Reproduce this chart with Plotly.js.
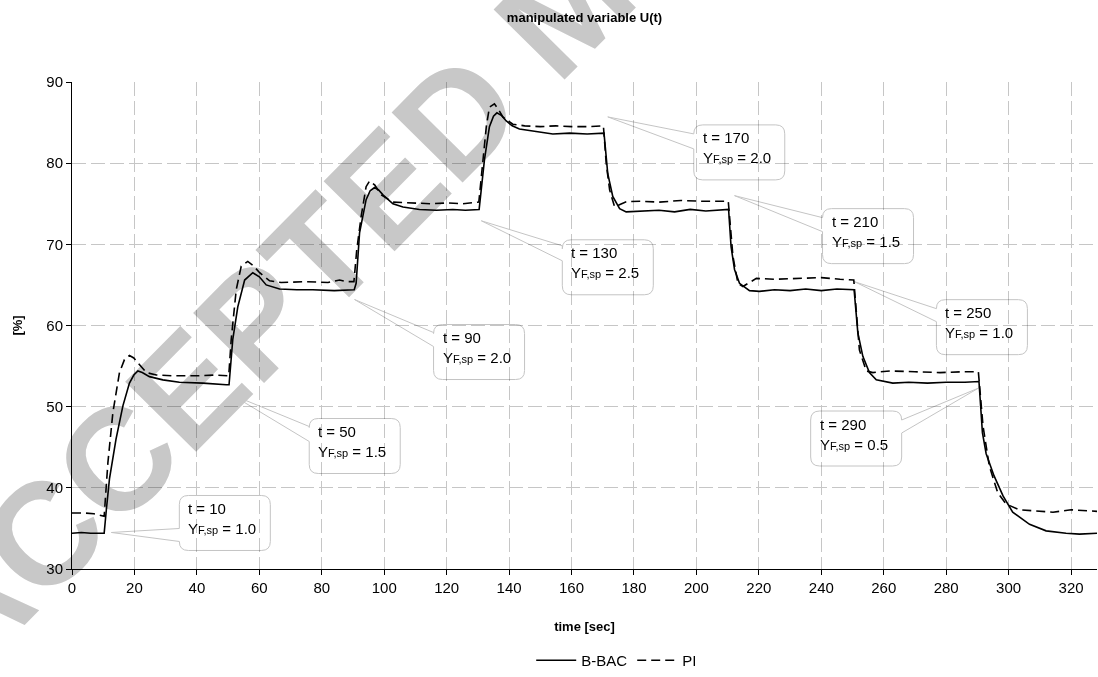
<!DOCTYPE html>
<html>
<head>
<meta charset="utf-8">
<script src="https://cdn.plot.ly/plotly-3.0.1.min.js"></script>
<style>
html,body{margin:0;padding:0;background:#fff}
#chart{width:1098px;height:677px}
</style>
</head>
<body>
<div id="chart"></div>
<script>
// ---------- data ----------
const bbacTime = [0,3,6,10.3, 11.0,12.0,14.1,16.3,18.4,19.8,21.1,22.5,24.8,29.1,34.4,41.9,49.4,50.3, 51.5,53.1,55.3,57.9,60.0,62.2,66.5,72.0,77.1,84.0,90.4, 91.0,92.1,94.2,95.5,96.9,98.2,99.6,102.8,106.0,111.3,116.7,122.0,126.0,130.4, 132.1,133.7,135.0,136.1,137.5,139.1,141.0,143.3,148.7,154.0,159.4,165.0,170.4, 171.6,173.2,175.4,177.5,182.8,188.0,193.0,198.0,203.0,210.3, 211.1,212.2,213.8,217.0,220.2,225.0,230.0,235.0,240.0,245.0,250.5, 251.7,253.3,255.4,257.6,262.9,268.0,274.0,280.0,286.0,290.5, 291.0,291.6,292.8,295.3,298.2,301.3,306.7,312.0,318.4,322.7,328.3];
const bbacU = [34.4,34.5,34.4,34.4, 37.3,41.1,46.0,50.1,52.9,53.9,54.4,54.2,53.7,53.3,53.0,52.9,52.7,52.7, 58.3,62.3,65.6,66.5,66.0,65.0,64.5,64.4,64.4,64.3,64.4, 65.2,71.4,75.5,76.6,77.0,76.7,76.1,75.0,74.6,74.3,74.2,74.3,74.2,74.3, 80.4,84.5,85.8,86.2,85.9,85.2,84.6,84.2,83.9,83.6,83.7,83.6,83.7, 78.7,75.9,74.4,74.0,74.1,74.2,74.0,74.3,74.1,74.3, 69.7,66.9,65.2,64.3,64.2,64.4,64.3,64.5,64.3,64.5,64.4, 59.1,56.2,54.2,53.3,52.9,53.0,52.9,53.0,53.0,53.1, 49.5,46.8,44.2,41.5,39.0,37.0,35.5,34.7,34.4,34.3,34.4];

const piTime = [0,4,7,9,10.3, 11.5,13.1,15.2,16.8,18.4,19.8,21.1,23.8,27.0,32.0,40.0,46.0,50.2, 51.0,52.6,54.2,56.3,58.0,60.1,63.3,67.0,75.0,82.0,85.7,88.0,90.3, 91.2,92.6,94.2,95.3,97.0,99.0,102.8,108.0,115.0,120.0,125.0,130.3, 131.6,132.7,133.7,135.3,136.6,138.0,141.2,145.0,150.0,155.0,160.0,165.0,170.2, 171.1,172.2,173.8,175.5,177.5,182.0,188.0,195.0,202.0,210.2, 211.7,213.3,214.9,217.0,219.2,225.0,232.0,240.0,246.0,250.4, 252.2,254.4,256.5,262.0,270.0,278.0,285.0,290.3, 291.8,293.8,296.5,299.2,303.4,308.0,314.2,320.0,328.3];
const piU = [36.9,36.9,36.8,36.6,36.5, 43.1,49.3,54.2,55.8,56.3,56.0,55.4,54.2,53.9,53.8,53.8,53.9,53.8, 58.3,64.4,67.3,67.9,67.4,66.5,65.5,65.3,65.4,65.3,65.6,65.4,65.4, 69.3,73.4,77.1,77.8,77.3,76.1,75.2,75.1,75.0,75.1,75.0,75.2, 80.4,84.5,86.9,87.3,86.6,85.7,84.8,84.6,84.5,84.6,84.5,84.5,84.6, 80.0,76.7,74.6,74.9,75.25,75.3,75.2,75.4,75.3,75.3, 68.5,65.2,64.8,65.3,65.8,65.7,65.8,65.9,65.7,65.6, 57.0,54.4,54.2,54.4,54.3,54.2,54.3,54.3, 47.6,42.7,39.4,38.0,37.3,37.2,37.0,37.3,37.1];

const seriesNames = ['B-BAC', 'PI'];
const xTickVals = [0,20,40,60,80,100,120,140,160,180,200,220,240,260,280,300,320];
const yTickVals = [30,40,50,60,70,80,90];

// set-point change events shown in the callouts
const eventTime = [10, 50, 90, 130, 170, 210, 250, 290];
const eventYsp  = ['1.0', '1.5', '2.0', '2.5', '2.0', '1.5', '1.0', '0.5'];

// ---------- callout layout (positions only) ----------
const calloutTipT = [12.6, 51.0, 90.5, 131.1, 171.6, 212.2, 250.6, 290.4];
const calloutTipU = [34.5, 51.5, 63.2, 72.9, 85.7, 76.0, 65.4, 52.3];
// box offset from tip in pixels (x right, y down), wedge base range, wedge side
const calloutBox = [[68,-37],[78,24],[79,25],[81,19],[86,8],[88,13],[82,18],[-168,23]];
const calloutWedge = [[-4,9],[32,47],[33,47],[25,40],[17,32],[22,36],[27,40],[32,45]];
const calloutSide = ['l','l','l','l','l','l','l','r'];
const BOX_W = 91, BOX_H = 55, BOX_R = 9;

const FONT = 'Arial, "Liberation Sans", sans-serif';

function calloutPath(bx, by, w, h, r, wy0, wy1, side) {
  const X = v => (+v).toFixed(1), Y = v => (-v).toFixed(1);
  const x0 = bx, x1 = bx + w, y0 = by, y1 = by + h;
  let p = `M${X(x0+r)},${Y(y0)} L${X(x1-r)},${Y(y0)} Q${X(x1)},${Y(y0)} ${X(x1)},${Y(y0+r)}`;
  if (side === 'r') p += ` L${X(x1)},${Y(wy0)} L0,0 L${X(x1)},${Y(wy1)}`;
  p += ` L${X(x1)},${Y(y1-r)} Q${X(x1)},${Y(y1)} ${X(x1-r)},${Y(y1)} L${X(x0+r)},${Y(y1)} Q${X(x0)},${Y(y1)} ${X(x0)},${Y(y1-r)}`;
  if (side === 'l') p += ` L${X(x0)},${Y(wy1)} L0,0 L${X(x0)},${Y(wy0)}`;
  p += ` L${X(x0)},${Y(y0+r)} Q${X(x0)},${Y(y0)} ${X(x0+r)},${Y(y0)} Z`;
  return p;
}

const shapes = [];
const annotations = [];

// watermark (first, so it sits beneath the other texts)
annotations.push({
  xref: 'paper', yref: 'paper', x: 0.4839, y: 1.158,
  xanchor: 'center', yanchor: 'middle', showarrow: false,
  textangle: -45.3,
  text: '<b>ACCEPTED MANUSCRIPT</b>',
  font: {family: FONT, size: 145, color: '#c8c8c8'}
});

eventTime.forEach((t, i) => {
  const [bx, by] = calloutBox[i];
  const [w0, w1] = calloutWedge[i];
  shapes.push({
    type: 'path', xref: 'x', yref: 'y',
    xsizemode: 'pixel', ysizemode: 'pixel',
    xanchor: calloutTipT[i], yanchor: calloutTipU[i],
    path: calloutPath(bx, by, BOX_W, BOX_H, BOX_R, w0, w1, calloutSide[i]),
    fillcolor: '#ffffff', line: {color: '#c4c4c4', width: 1}, layer: 'above'
  });
  annotations.push({
    xref: 'x', yref: 'y', x: calloutTipT[i], y: calloutTipU[i],
    showarrow: false, xanchor: 'left', yanchor: 'middle', align: 'left',
    xshift: bx + 7, yshift: -(by + 23),
    text: 't = ' + t + '<br>Y<span style="font-size:11px">F,sp</span> = ' + eventYsp[i],
    font: {family: FONT, size: 15, color: '#000'}
  });
});

const traces = [
  {x: bbacTime, y: bbacU, name: seriesNames[0], type: 'scatter', mode: 'lines',
   line: {color: '#000', width: 1.6}},
  {x: piTime, y: piU, name: seriesNames[1], type: 'scatter', mode: 'lines',
   line: {color: '#000', width: 1.6, dash: '9px,5px'}}
];

const axisCommon = {
  showline: true, linecolor: '#000', linewidth: 1,
  ticks: 'outside', ticklen: 5, tickcolor: '#000', tickwidth: 1,
  showgrid: true, gridcolor: '#c6c6c6', gridwidth: 1, griddash: '14px,5px',
  zeroline: false, tickfont: {family: FONT, size: 15, color: '#000'}
};

const layout = {
  width: 1098, height: 677,
  margin: {l: 72, r: 1, t: 82, b: 107},
  paper_bgcolor: '#fff', plot_bgcolor: '#fff',
  font: {family: FONT, color: '#000'},
  title: {
    text: '<b>manipulated variable U(t)</b>',
    font: {family: FONT, size: 13, color: '#000'},
    x: 0.5, xref: 'paper', xanchor: 'center',
    y: 1 - 17/677, yref: 'container', yanchor: 'middle'
  },
  xaxis: Object.assign({}, axisCommon, {
    range: [0, 328.3], tickvals: xTickVals,
    title: {text: '<b>time [sec]</b>', font: {family: FONT, size: 13, color: '#000'}, standoff: 26}
  }),
  yaxis: Object.assign({}, axisCommon, {
    range: [30, 90], tickvals: yTickVals,
    title: {text: '<b>[%]</b>', font: {family: FONT, size: 13, color: '#000'}, standoff: 20}
  }),
  showlegend: true,
  legend: {
    orientation: 'h', x: 0.448, xanchor: 'left', y: -0.186, yanchor: 'middle',
    font: {family: FONT, size: 15, color: '#000'}, bgcolor: 'rgba(0,0,0,0)',
    itemwidth: 40
  },
  shapes: shapes,
  annotations: annotations
};

Plotly.newPlot('chart', traces, layout, {displayModeBar: false, staticPlot: true}).then(() => {
  const svgs = document.querySelectorAll('#chart svg.main-svg');
  if (svgs[1]) svgs[1].style.mixBlendMode = 'multiply';
  const info = document.querySelector('#chart .infolayer');
  if (info) {
    const wm = Array.from(info.querySelectorAll('g.annotation'))
      .find(g => (g.textContent || '').indexOf('ACCEPTED') >= 0);
    if (wm) info.insertBefore(wm, info.firstChild);
  }
});
</script>
</body>
</html>
